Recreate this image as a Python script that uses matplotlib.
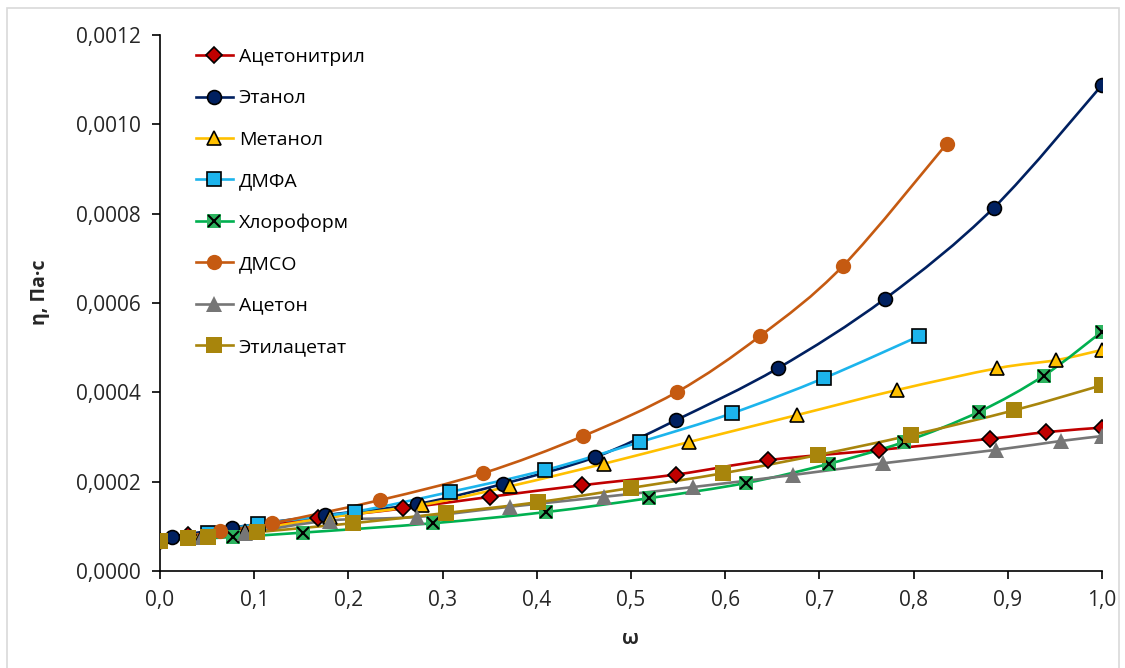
import matplotlib
matplotlib.use("Agg")
import matplotlib.pyplot as plt
import numpy as np
from matplotlib.path import Path
from matplotlib.patches import PathPatch, Rectangle
from matplotlib.lines import Line2D
from matplotlib.legend_handler import HandlerTuple
from matplotlib.ticker import FuncFormatter

plt.rcParams['font.family'] = ['Open Sans', 'DejaVu Sans']

# viscosity of mixtures vs mass fraction
acn_x = [0.0, 0.03, 0.075, 0.168, 0.258, 0.35, 0.448, 0.548, 0.645, 0.763, 0.881, 0.941, 1.0]
acn_y = [0.000068, 0.000080, 0.000092, 0.000118, 0.000140, 0.000166, 0.000192, 0.000216,
         0.000248, 0.000271, 0.000296, 0.000311, 0.000321]

etoh_x = [0.0, 0.013, 0.076, 0.175, 0.273, 0.364, 0.462, 0.548, 0.656, 0.77, 0.885, 1.0]
etoh_y = [0.000068, 0.000077, 0.000097, 0.000125, 0.000150, 0.000195, 0.000255, 0.000338,
          0.000454, 0.000610, 0.000813, 0.001088]

meoh_x = [0.0, 0.045, 0.09, 0.18, 0.278, 0.372, 0.471, 0.562, 0.676, 0.782, 0.889, 0.951, 1.0]
meoh_y = [0.000068, 0.000078, 0.000090, 0.000120, 0.000148, 0.000190, 0.000240, 0.000289,
          0.000349, 0.000405, 0.000454, 0.000472, 0.000495]

dmf_x = [0.0, 0.051, 0.104, 0.207, 0.308, 0.409, 0.510, 0.607, 0.705, 0.806]
dmf_y = [0.000068, 0.000085, 0.000105, 0.000133, 0.000177, 0.000226, 0.000289, 0.000353,
         0.000432, 0.000526]

chcl3_x = [0.0, 0.077, 0.152, 0.290, 0.410, 0.519, 0.622, 0.710, 0.790, 0.869, 0.938, 1.0]
chcl3_y = [0.000068, 0.000076, 0.000086, 0.000107, 0.000132, 0.000163, 0.000197, 0.000240,
           0.000289, 0.000356, 0.000437, 0.000536]

dmso_x = [0.0, 0.064, 0.119, 0.234, 0.343, 0.449, 0.549, 0.637, 0.725, 0.835]
dmso_y = [0.000068, 0.000090, 0.000107, 0.000159, 0.000219, 0.000302, 0.000401, 0.000526,
          0.000683, 0.000956]

acet_x = [0.0, 0.045, 0.090, 0.180, 0.273, 0.372, 0.471, 0.566, 0.672, 0.767, 0.887, 0.956, 1.0]
acet_y = [0.000068, 0.000076, 0.000085, 0.000113, 0.000121, 0.000144, 0.000166, 0.000188,
          0.000215, 0.000241, 0.000271, 0.000291, 0.000302]

etac_x = [0.0, 0.030, 0.051, 0.103, 0.205, 0.304, 0.401, 0.500, 0.598, 0.699, 0.797, 0.907, 1.0]
etac_y = [0.000067, 0.000074, 0.000076, 0.000087, 0.000107, 0.000130, 0.000154, 0.000186,
          0.000219, 0.000260, 0.000304, 0.000360, 0.000416]

labels = ['Ацетонитрил', 'Этанол', 'Метанол', 'ДМФА', 'Хлороформ', 'ДМСО', 'Ацетон', 'Этилацетат']


def smooth_path(x, y):
    # excel-style smoothed line: cubic bezier through every point
    p = np.column_stack([x, y])
    n = len(p)
    verts = [p[0]]
    codes = [Path.MOVETO]
    for i in range(n - 1):
        p0 = p[i - 1] if i > 0 else p[i]
        p3 = p[i + 2] if i + 2 < n else p[i + 1]
        c1 = p[i] + (p[i + 1] - p0) / 6.0
        c2 = p[i + 1] - (p3 - p[i]) / 6.0
        verts += [c1, c2, p[i + 1]]
        codes += [Path.CURVE4] * 3
    return Path(verts, codes)


fig = plt.figure(figsize=(11.25, 6.68), dpi=100)
ax = fig.add_axes([160 / 1125, 1 - 571 / 668, (1102 - 160) / 1125, (571 - 35) / 668])

# light frame around the chart area
fig.patches.append(Rectangle((0.006, -0.01), 0.989, 0.998, transform=fig.transFigure,
                             fill=False, edgecolor='#d9d9d9', linewidth=1.2))

series = [
    (acn_x, acn_y, '#C00000', 'D', '#C00000', 'black', 8),
    (etoh_x, etoh_y, '#002060', 'o', '#002060', 'black', 10),
    (meoh_x, meoh_y, '#FFC000', '^', '#FFC000', 'black', 10),
    (dmf_x, dmf_y, '#1CB4EC', 's', '#1CB4EC', 'black', 10),
    (chcl3_x, chcl3_y, '#00B050', 's', '#2DB35F', 'none', 10),
    (dmso_x, dmso_y, '#C55A11', 'o', '#C55A11', 'none', 11),
    (acet_x, acet_y, '#767676', '^', '#767676', 'none', 11),
    (etac_x, etac_y, '#A8850C', 's', '#A8850C', 'none', 11),
]

handles = []
for i, (x, y, lc, mk, fc, ec, ms) in enumerate(series):
    ax.add_patch(PathPatch(smooth_path(x, y), fill=False, edgecolor=lc, linewidth=1.9,
                           zorder=2 + i * 0.1))
    ax.plot(x, y, linestyle='none', marker=mk, markersize=ms, markerfacecolor=fc,
            markeredgecolor=ec, markeredgewidth=1.2, zorder=3 + i * 0.1)
    h = Line2D([], [], color=lc, linewidth=1.9, marker=mk, markersize=ms,
               markerfacecolor=fc, markeredgecolor=ec, markeredgewidth=1.2)
    if labels[i] == 'Хлороформ':
        ax.plot(x, y, linestyle='none', marker='x', markersize=9, color='black',
                markeredgewidth=1.5, zorder=3.05 + i * 0.1)
        h = (h, Line2D([], [], linestyle='none', marker='x', markersize=9, color='black',
                       markeredgewidth=1.5))
    handles.append(h)

ax.set_xlim(0, 1.0)
ax.set_ylim(0, 0.0012)
ax.set_xticks(np.arange(0, 1.01, 0.1))
ax.set_yticks(np.arange(0, 0.00121, 0.0002))
ax.xaxis.set_major_formatter(FuncFormatter(lambda v, p: f'{v:.1f}'.replace('.', ',')))
ax.yaxis.set_major_formatter(FuncFormatter(lambda v, p: f'{v:.4f}'.replace('.', ',')))
ax.tick_params(labelsize=15, length=6, width=1.2, color='black', pad=8, labelcolor='#262626')
ax.spines['top'].set_visible(False)
ax.spines['right'].set_visible(False)
for s in ('left', 'bottom'):
    ax.spines[s].set_linewidth(1.2)

ax.set_xlabel('ω', fontsize=14, fontweight='bold', color='#262626')
ax.set_ylabel('η, Па·с', fontsize=14, fontweight='bold', color='#262626')
ax.xaxis.set_label_coords(0.499, -0.108)
ax.yaxis.set_label_coords(-0.117, 0.52)

ax.legend(handles, labels, loc='upper left', bbox_to_anchor=(196 / 1125, 1 - 48 / 668),
          bbox_transform=fig.transFigure, frameon=False, fontsize=14,
          handlelength=1.9, handletextpad=0.3, labelspacing=1.2, borderpad=0,
          borderaxespad=0, handler_map={tuple: HandlerTuple(ndivide=1)})

fig.savefig('out.png', dpi=100)
